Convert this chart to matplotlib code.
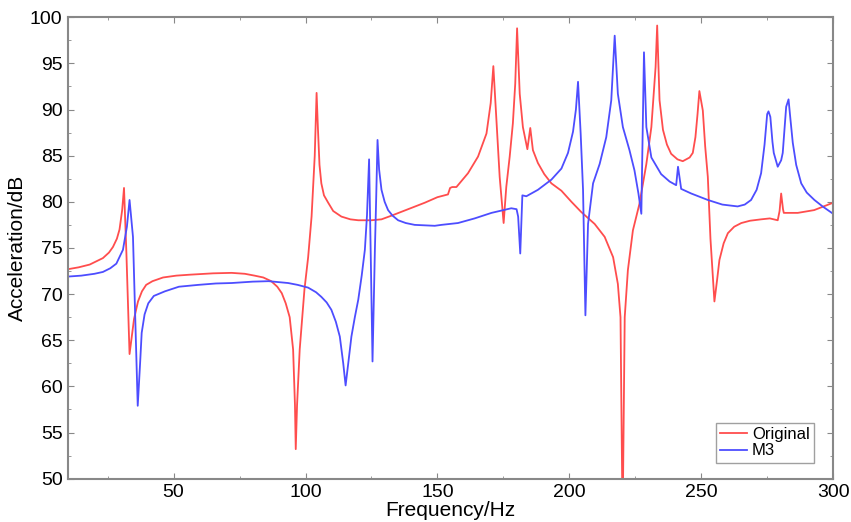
import matplotlib
matplotlib.use('Agg')
from matplotlib import pyplot as plt
from matplotlib.ticker import MultipleLocator

plt.rcParams['font.family'] = ['Liberation Sans', 'DejaVu Sans']

# Original
orig_f = [10, 14, 18.2, 23.2, 25.5, 27, 28.5, 29.5, 30.5, 31.2, 32.1, 32.8, 33.3, 34.2,
          35, 36.5, 38, 39.6, 42, 46, 51, 56, 65, 72, 77, 80.7, 84, 87, 89.3, 91, 92.5,
          94, 95.3, 96, 96.3, 96.8, 97.8, 99.6, 101, 102.3, 103.5, 104.2, 104.7, 105.3,
          106, 107, 108.6, 110.5, 113.6, 117, 120, 125, 128.8, 132.6, 138, 145.2, 150,
          154, 154.8, 155.6, 157.2, 161.6, 165.4, 168.6, 170.2, 171.2, 172.3, 173.6,
          175.1, 176.1, 177.4, 178.6, 179.5, 180.2, 181.2, 182.4, 184.1, 185.2, 186.2,
          188.1, 190.5, 193.2, 197, 200.8, 204.5, 209.6, 213.4, 216.6, 218.4, 219.4,
          220.2, 221, 222.2, 224.1, 226.6, 229.2, 231.1, 232.7, 233.3, 234.2, 235.5,
          237, 238.6, 241, 243, 245.6, 246.8, 247.8, 248.6, 249.3, 250.6, 251.5, 252.5,
          253.5, 255, 256, 256.9, 258.5, 260.1, 262.5, 265.2, 268.5, 272.7, 276, 279,
          279.7, 280.3, 281, 281.3, 286.6, 292.8, 300]
orig_db = [72.7, 72.9, 73.2, 73.9, 74.5, 75.1, 76.0, 77.0, 79.1, 81.5, 74.5, 68, 63.5,
           65.5, 67.3, 69.2, 70.3, 71.0, 71.4, 71.8, 72.0, 72.1, 72.25, 72.3, 72.2, 72.0,
           71.8, 71.4, 70.8, 70.1, 69.0, 67.5, 64, 58, 53.2, 58, 64, 70.5, 74, 78.4, 85,
           91.8, 88, 84, 82, 80.7, 79.9, 79.0, 78.4, 78.1, 78.0, 78.0, 78.1, 78.5, 79.1,
           79.9, 80.5, 80.8, 81.5, 81.6, 81.6, 83.1, 84.9, 87.4, 90.7, 94.7, 89.2, 82.7,
           77.7, 81.6, 84.9, 88.5, 92.8, 98.8, 91.7, 88.1, 85.7, 88.0, 85.6, 84.2, 83.0,
           82.0, 81.2, 80.0, 78.9, 77.6, 76.2, 74.0, 71.1, 67.5, 45, 67.5, 72.6, 76.9,
           79.8, 84.1, 88.1, 94.6, 99.1, 91.0, 87.8, 86.2, 85.2, 84.6, 84.4, 84.8, 85.3,
           87, 89.5, 92, 89.9, 86, 82.7, 76, 69.2, 71.5, 73.7, 75.5, 76.6, 77.3, 77.7,
           77.95, 78.1, 78.2, 78.0, 79, 80.9, 79.2, 78.8, 78.8, 79.1, 79.9]

# M3
m3_f = [10, 15, 20, 23.2, 26, 28.3, 30.8, 32.3, 33.3, 34.6, 35.5, 36.4, 37.3, 37.9, 39,
        40.4, 42.5, 46.7, 52, 59.4, 66, 72, 80, 86, 93.4, 97, 101, 104, 106, 108, 109.8,
        111.5, 113, 114.3, 115.2, 116.2, 117.4, 118.7, 120, 121.3, 122.5, 123.3, 124.1,
        124.8, 125.4, 126.3, 126.8, 127.3, 127.9, 128.8, 130, 131.3, 133, 135.1, 138,
        141.4, 149, 151.5, 157.8, 164.1, 170.5, 178, 180, 180.6, 181.4, 182.2, 183.7,
        188.1, 193.2, 197, 199.5, 201.4, 202.5, 203.3, 204.3, 205.2, 206.1, 207.1, 209,
        211.5, 214, 215.9, 217.2, 218.4, 220.3, 222.8, 224.7, 226.2, 227.3, 228.3, 229.2,
        231.1, 234.8, 238, 240.5, 241.2, 242.4, 246.2, 252.5, 258, 263.8, 266.5, 268.9,
        271, 272.7, 274, 275, 275.5, 276.2, 277, 277.5, 279, 280.3, 280.9, 281.6, 282.2,
        283.1, 283.8, 284.7, 286, 287.9, 290, 292.9, 296, 300]
m3_db = [71.9, 72.0, 72.2, 72.4, 72.8, 73.3, 74.8, 77.3, 80.2, 76.2, 67, 57.9, 62.5,
         65.8, 67.8, 69.0, 69.8, 70.3, 70.8, 71.0, 71.15, 71.2, 71.35, 71.4, 71.2, 71.0,
         70.7, 70.2, 69.7, 69.1, 68.3, 67, 65.4, 62.5, 60.1, 62.5, 65.4, 67.5, 69.4, 72,
         74.8, 78.5, 84.6, 73, 62.7, 74.8, 80.5, 86.7, 83.5, 81.3, 80, 79.1, 78.5, 78.0,
         77.7, 77.5, 77.4, 77.5, 77.7, 78.2, 78.8, 79.3, 79.2, 78.4, 74.4, 80.7, 80.6,
         81.3, 82.4, 83.6, 85.3, 87.6, 90, 93.0, 87.4, 81.3, 67.7, 77.6, 82.0, 84.1, 87.0,
         91.0, 98.0, 91.7, 88.1, 85.6, 83.4, 80.9, 78.7, 96.2, 88.1, 84.8, 83.0, 82.2,
         81.8, 83.8, 81.4, 80.9, 80.2, 79.7, 79.5, 79.7, 80.2, 81.3, 83.1, 86.2, 89.5,
         89.8, 89.2, 86.5, 85.3, 83.8, 84.5, 85.3, 88, 90.3, 91.1, 89, 86.4, 84, 82.0, 81,
         80.2, 79.5, 78.7]

fig = plt.figure(figsize=(8.51, 5.22), dpi=100)
ax = fig.add_axes([0.080, 0.083, 0.899, 0.884])

ax.plot(orig_f, orig_db, color='#ff4d4d', lw=1.3, label='Original')
ax.plot(m3_f, m3_db, color='#4d4dff', lw=1.3, label='M3')

ax.set_xlim(10, 300)
ax.set_ylim(50, 100)
ax.xaxis.set_major_locator(MultipleLocator(50))
ax.xaxis.set_minor_locator(MultipleLocator(25))
ax.yaxis.set_major_locator(MultipleLocator(5))
ax.yaxis.set_minor_locator(MultipleLocator(2.5))
ax.tick_params(which='both', direction='in', top=True, right=True, color='#888888',
               labelsize=14, pad=4)
ax.tick_params(which='major', length=4)
ax.tick_params(which='minor', length=2.5)
for s in ax.spines.values():
    s.set_color('#888888')
    s.set_linewidth(1.5)

ax.set_xlabel('Frequency/Hz', fontsize=15, labelpad=0)
ax.set_ylabel('Acceleration/dB', fontsize=15, labelpad=2)

leg = ax.legend(loc='lower right', bbox_to_anchor=(0.975, 0.035), fontsize=12,
                fancybox=False, edgecolor='#888888', handlelength=1.6,
                handletextpad=0.3, borderpad=0.25, labelspacing=0.1, borderaxespad=0)
leg.get_frame().set_linewidth(1.0)

fig.savefig('out.png', dpi=100)
